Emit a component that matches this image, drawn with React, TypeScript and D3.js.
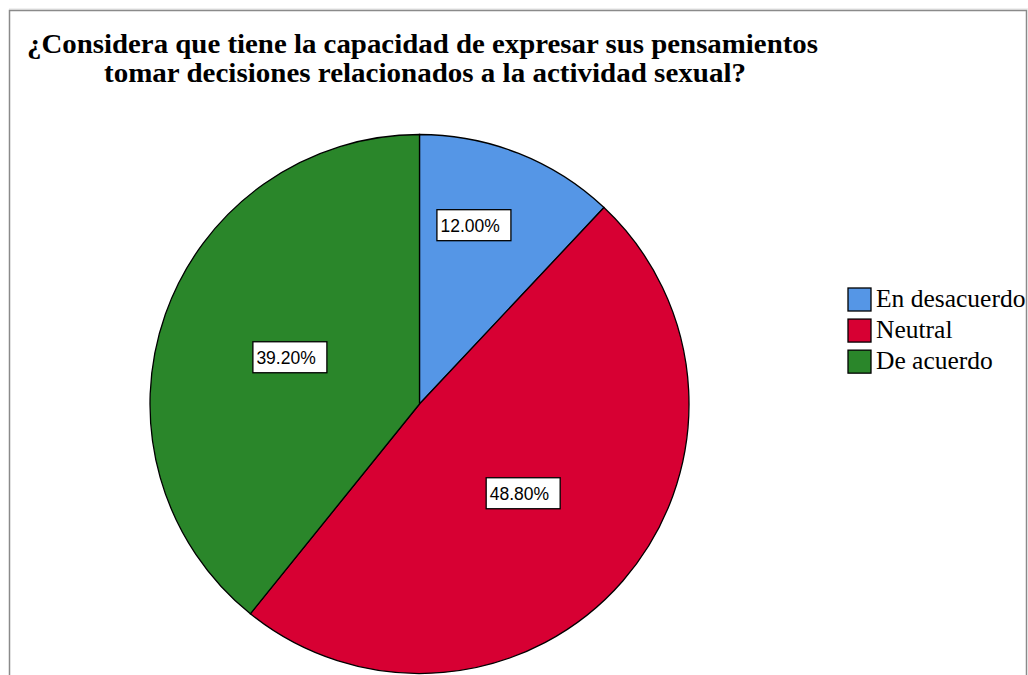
import React from "react";
import * as d3 from "d3";

const categories = ["En desacuerdo", "Neutral", "De acuerdo"];
const values = [12.0, 48.8, 39.2];
const colors = ["#5596e6", "#d70033", "#2a862a"];
const titleLines = [
  "¿Considera que tiene la capacidad de expresar sus pensamientos",
  "tomar decisiones relacionados a la actividad sexual?",
];

export default function App() {
  const W = 1028;
  const H = 675;
  const cx = 419.5;
  const cy = 404;
  const R = 269.5;
  const pie = d3.pie<number>().sort(null).value((d) => d);
  const arcs = pie(values);
  const arc = d3.arc<d3.PieArcDatum<number>>().innerRadius(0).outerRadius(R);
  const total = d3.sum(values);
  const fmt = (v: number) => d3.format(".2f")(v) + "%";
  const legendY = d3.scaleBand<string>().domain(categories).range([288, 375]).paddingInner(0.2);
  const titleWidths = [791, 642];
  const titleCenters = [422.5, 425];

  return (
    <svg
      width={W}
      height={H}
      style={{ position: "absolute", left: 0, top: 0, background: "#fff" }}
    >
      <line x1={9} y1={9} x2={1028} y2={9} stroke="#e0e0e0" strokeWidth={1} />
      <rect x={9.5} y={10.5} width={1017} height={720} fill="#fff" stroke="#8a8a8a" strokeWidth={1.5} />
      <text
        fontFamily="'Liberation Serif', 'Times New Roman', serif"
        fontWeight="bold"
        fontSize={28}
        textAnchor="middle"
        fill="#000"
      >
        {titleLines.map((t, i) => (
          <tspan
            key={i}
            x={titleCenters[i]}
            y={53 + i * 29}
            textLength={titleWidths[i]}
            lengthAdjust="spacingAndGlyphs"
          >
            {t}
          </tspan>
        ))}
      </text>
      <g transform={`translate(${cx},${cy})`}>
        {arcs.map((a, i) => (
          <path key={i} d={arc(a) || ""} fill={colors[i]} stroke="#000" strokeWidth={1.3} />
        ))}
        {arcs.map((a, i) => {
          const frac = a.value / total;
          const lr = R * (frac < 0.2 ? 0.69 : 0.51);
          const mid = (a.startAngle + a.endAngle) / 2 - (frac < 0.2 ? 0.08 : 0);
          const x = Math.sin(mid) * lr;
          const y = -Math.cos(mid) * lr;
          return (
            <g key={"l" + i} transform={`translate(${x},${y - 1})`}>
              <rect x={-37} y={-15.5} width={74} height={31} fill="#fff" stroke="#000" strokeWidth={1.3} />
              <text
                x={-33.5}
                y={6.5}
                fontFamily="'Liberation Sans', Arial, sans-serif"
                fontSize={17.5}
                fill="#000"
              >
                {fmt(a.value)}
              </text>
            </g>
          );
        })}
      </g>
      {categories.map((c, i) => {
        const y = legendY(c) || 0;
        return (
          <g key={c}>
            <rect x={848} y={y} width={23} height={23} fill={colors[i]} stroke="#000" strokeWidth={1.3} />
            <text
              x={876}
              y={y + 19}
              fontFamily="'Liberation Serif', 'Times New Roman', serif"
              fontSize={25.5}
              fill="#000"
            >
              {c}
            </text>
          </g>
        );
      })}
    </svg>
  );
}
